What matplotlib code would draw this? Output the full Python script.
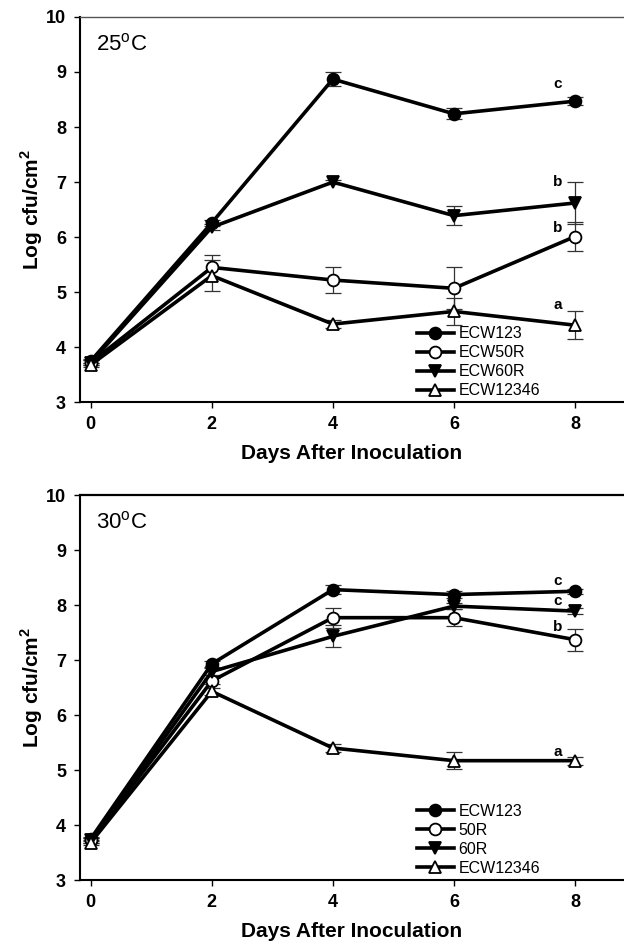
import matplotlib
matplotlib.use("Agg")
import matplotlib.pyplot as plt
from matplotlib.font_manager import FontProperties

plt.rcParams['mathtext.fontset'] = 'custom'
plt.rcParams['mathtext.rm'] = 'Liberation Sans'
plt.rcParams['mathtext.bf'] = 'Liberation Sans:bold'

days = [0, 2, 4, 6, 8]

# 25 C panel
labels_25 = ["ECW123", "ECW50R", "ECW60R", "ECW12346"]
mean_25 = {
    "ECW123":   [3.75, 6.26, 8.87, 8.24, 8.47],
    "ECW50R":   [3.72, 5.45, 5.22, 5.07, 6.01],
    "ECW60R":   [3.72, 6.18, 7.00, 6.39, 6.62],
    "ECW12346": [3.68, 5.30, 4.42, 4.65, 4.40],
}
err_25 = {
    "ECW123":   [0.04, 0.05, 0.13, 0.10, 0.07],
    "ECW50R":   [0.04, 0.22, 0.24, 0.38, 0.27],
    "ECW60R":   [0.04, 0.05, 0.04, 0.17, 0.38],
    "ECW12346": [0.04, 0.28, 0.08, 0.25, 0.26],
}
letters_25 = ["c", "b", "b", "a"]
letter_y_25 = [8.78, 7.0, 6.17, 4.76]

# 30 C panel
labels_30 = ["ECW123", "50R", "60R", "ECW12346"]
mean_30 = {
    "ECW123":   [3.75, 6.93, 8.28, 8.19, 8.25],
    "50R":      [3.72, 6.62, 7.77, 7.77, 7.37],
    "60R":      [3.72, 6.79, 7.43, 7.98, 7.89],
    "ECW12346": [3.68, 6.43, 5.40, 5.17, 5.17],
}
err_30 = {
    "ECW123":   [0.04, 0.06, 0.08, 0.06, 0.05],
    "50R":      [0.04, 0.06, 0.18, 0.15, 0.20],
    "60R":      [0.04, 0.06, 0.20, 0.05, 0.05],
    "ECW12346": [0.04, 0.06, 0.08, 0.15, 0.07],
}
letters_30 = ["c", "c", "b", "a"]
letter_y_30 = [8.44, 8.07, 7.6, 5.32]

markers = [("o", "black"), ("o", "white"), ("v", "black"), ("^", "white")]

fig = plt.figure(figsize=(6.24, 9.42), dpi=100)
ax1 = fig.add_axes([0.128, 0.573, 0.872, 0.409])
ax2 = fig.add_axes([0.128, 0.0658, 0.872, 0.4087])

tick_font = dict(family=['Liberation Sans', 'DejaVu Sans'], weight='bold', size=13)


def draw_panel(ax, labels, means, errs, letters, letter_y, title, top_lw, top_col):
    for name, (m, fc) in zip(labels, markers):
        ax.errorbar(days, means[name], yerr=errs[name], fmt='none', ecolor='#333333',
                    elinewidth=0.9, capsize=5.5, capthick=0.9, zorder=2)
        ax.plot(days, means[name], color='black', lw=2.6, marker=m, markersize=8.5,
                markerfacecolor=fc, markeredgecolor='black', markeredgewidth=1.3,
                label=name, zorder=3)
    for lt, ly in zip(letters, letter_y):
        ax.text(7.72, ly, lt, ha='center', va='center',
                fontdict=dict(family=['Liberation Sans', 'DejaVu Sans'], weight='bold', size=11))
    ax.text(0.08, 9.5, title, ha='left', va='center', fontsize=16,
            family=['Liberation Sans', 'DejaVu Sans'])
    ax.set_xlim(-0.18, 8.81)
    ax.set_ylim(3, 10)
    ax.set_xticks(days)
    ax.set_yticks(range(3, 11))
    ax.tick_params(direction='out', length=4, width=1, pad=6)
    for lab in ax.get_xticklabels() + ax.get_yticklabels():
        lab.set_fontproperties(FontProperties(**tick_font))
    ax.spines['right'].set_visible(False)
    ax.spines['left'].set_linewidth(1.5)
    ax.spines['bottom'].set_linewidth(1.5)
    ax.spines['top'].set_linewidth(top_lw)
    ax.spines['top'].set_color(top_col)
    ax.set_xlabel('Days After Inoculation', fontsize=15, weight='bold',
                  family=['Liberation Sans', 'DejaVu Sans'])
    ax.set_ylabel(r'Log cfu/cm$^{\mathbf{2}}$', fontsize=15, weight='bold',
                  family=['Liberation Sans', 'DejaVu Sans'])
    ax.yaxis.set_label_coords(-0.065, 0.5)
    ax.xaxis.set_label_coords(0.5, -0.108)
    ax.legend(loc='lower left', bbox_to_anchor=(0.605, -0.01), frameon=False,
              handlelength=2.3, handletextpad=0.3, labelspacing=0.25,
              prop=dict(family=['Liberation Sans', 'DejaVu Sans'], size=11.5),
              borderaxespad=0.1)


draw_panel(ax1, labels_25, mean_25, err_25, letters_25, letter_y_25,
           r'25$^{\rm o}$C', 1.0, '#555555')
draw_panel(ax2, labels_30, mean_30, err_30, letters_30, letter_y_30,
           r'30$^{\rm o}$C', 1.6, 'black')

fig.savefig('out.png', dpi=100)
